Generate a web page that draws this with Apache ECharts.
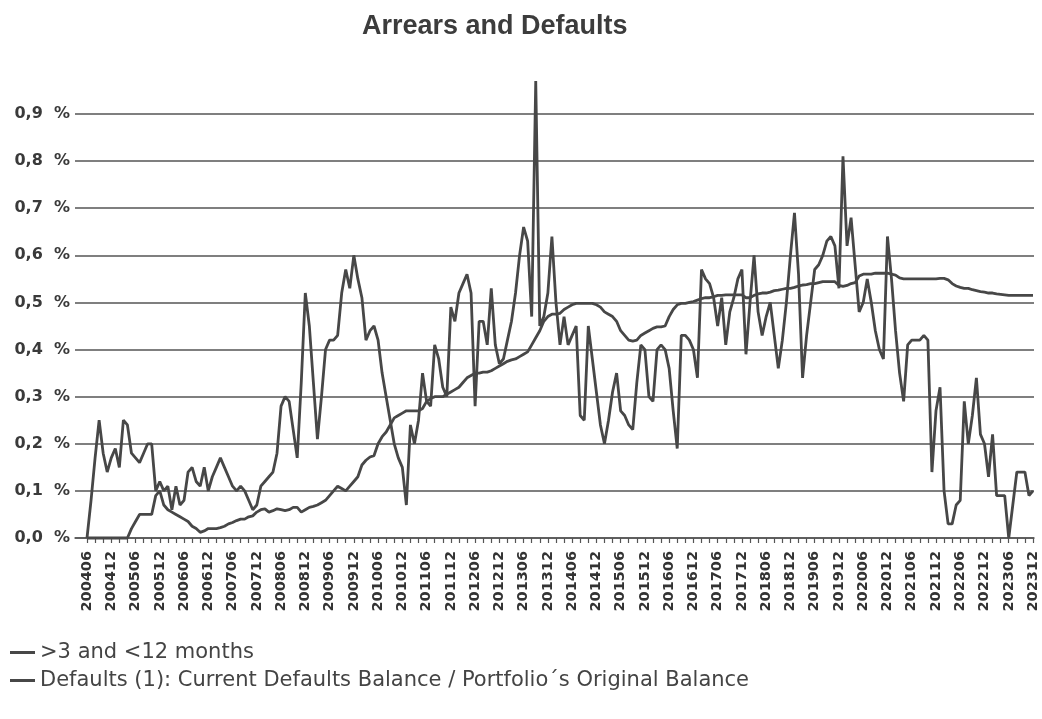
<!DOCTYPE html>
<html><head><meta charset="utf-8">
<script src="https://cdn.jsdelivr.net/npm/echarts@6/dist/echarts.min.js"></script>
<style>html,body{margin:0;padding:0;background:#fff}#c{width:1042px;height:719px}</style>
</head><body><div id="c"></div>
<script>
// Monthly categories 200406 .. 202312
const firstMonth = [2004, 6];
const lastMonth = [2023, 12];
const months = [];
for (let y = firstMonth[0], m = firstMonth[1]; y < lastMonth[0] || (y === lastMonth[0] && m <= lastMonth[1]); ) {
  months.push(String(y) + (m < 10 ? '0' + m : String(m)));
  m++; if (m > 12) { m = 1; y++; }
}

const seriesNames = ['>3 and <12 months', 'Defaults (1): Current Defaults Balance / Portfolio\u00B4s Original Balance'];

// >3 and <12 months arrears (%)
const arrears = [
  0.00,0.08,0.17,0.25,0.18,0.14,0.17,0.19,0.15,0.25,0.24,0.18,
  0.17,0.16,0.18,0.20,0.20,0.10,0.12,0.10,0.11,0.06,0.11,0.07,
  0.08,0.14,0.15,0.12,0.11,0.15,0.10,0.13,0.15,0.17,0.15,0.13,
  0.11,0.10,0.11,0.10,0.08,0.06,0.07,0.11,0.12,0.13,0.14,0.18,
  0.28,0.30,0.29,0.23,0.17,0.33,0.52,0.45,0.33,0.21,0.30,0.40,
  0.42,0.42,0.43,0.52,0.57,0.53,0.60,0.55,0.51,0.42,0.44,0.45,
  0.42,0.35,0.30,0.25,0.20,0.17,0.15,0.07,0.24,0.20,0.25,0.35,
  0.29,0.28,0.41,0.38,0.32,0.30,0.49,0.46,0.52,0.54,0.56,0.52,
  0.28,0.46,0.46,0.41,0.53,0.41,0.37,0.38,0.42,0.46,0.52,0.60,
  0.66,0.63,0.47,0.97,0.45,0.47,0.52,0.64,0.50,0.41,0.47,0.41,
  0.43,0.45,0.26,0.25,0.45,0.38,0.31,0.24,0.20,0.25,0.31,0.35,
  0.27,0.26,0.24,0.23,0.33,0.41,0.40,0.30,0.29,0.40,0.41,0.40,
  0.36,0.27,0.19,0.43,0.43,0.42,0.40,0.34,0.57,0.55,0.54,0.51,
  0.45,0.51,0.41,0.48,0.51,0.55,0.57,0.39,0.50,0.60,0.48,0.43,
  0.47,0.50,0.43,0.36,0.42,0.50,0.60,0.69,0.56,0.34,0.43,0.50,
  0.57,0.58,0.60,0.63,0.64,0.62,0.53,0.81,0.62,0.68,0.58,0.48,
  0.50,0.55,0.50,0.44,0.40,0.38,0.64,0.55,0.44,0.35,0.29,0.41,
  0.42,0.42,0.42,0.43,0.42,0.14,0.27,0.32,0.10,0.03,0.03,0.07,
  0.08,0.29,0.20,0.26,0.34,0.22,0.20,0.13,0.22,0.09,0.09,0.09,
  0.00,0.07,0.14,0.14,0.14,0.09,0.10
];

// Defaults: current defaults balance / original balance (%)
const defaults = [
  0,0,0,0,0,0,0,0,0,0,0,0.02,
  0.035,0.05,0.05,0.05,0.05,0.09,0.10,0.07,0.06,0.055,0.05,0.045,
  0.04,0.035,0.025,0.02,0.012,0.015,0.02,0.02,0.02,0.022,0.025,0.03,
  0.033,0.037,0.04,0.04,0.045,0.047,0.055,0.06,0.062,0.055,0.058,0.062,
  0.06,0.058,0.06,0.065,0.065,0.055,0.06,0.065,0.067,0.07,0.075,0.08,
  0.09,0.10,0.11,0.105,0.10,0.11,0.12,0.13,0.155,0.165,0.172,0.175,
  0.20,0.215,0.225,0.24,0.255,0.26,0.265,0.27,0.27,0.27,0.27,0.275,
  0.29,0.296,0.30,0.30,0.30,0.305,0.31,0.315,0.32,0.33,0.34,0.345,
  0.35,0.35,0.352,0.352,0.355,0.36,0.365,0.37,0.375,0.378,0.38,0.385,
  0.39,0.395,0.41,0.425,0.44,0.46,0.47,0.475,0.475,0.477,0.485,0.49,
  0.495,0.498,0.498,0.498,0.498,0.498,0.495,0.49,0.48,0.475,0.47,0.46,
  0.44,0.43,0.42,0.418,0.42,0.43,0.435,0.44,0.445,0.448,0.448,0.45,
  0.47,0.485,0.495,0.498,0.498,0.5,0.502,0.505,0.508,0.51,0.51,0.512,
  0.515,0.515,0.516,0.516,0.516,0.516,0.516,0.51,0.51,0.515,0.518,0.52,
  0.52,0.522,0.525,0.526,0.528,0.53,0.53,0.532,0.535,0.537,0.538,0.54,
  0.54,0.542,0.544,0.544,0.544,0.544,0.536,0.534,0.536,0.54,0.542,0.556,
  0.56,0.56,0.56,0.562,0.562,0.562,0.562,0.56,0.558,0.552,0.55,0.55,
  0.55,0.55,0.55,0.55,0.55,0.55,0.55,0.551,0.551,0.548,0.54,0.535,
  0.532,0.53,0.53,0.527,0.525,0.523,0.522,0.52,0.52,0.518,0.517,0.516,
  0.515,0.515,0.515,0.515,0.515,0.515,0.515
];

const yMin = 0, yMax = 0.9, yStep = 0.1;
const fmtY = v => v.toFixed(1).replace('.', ',') + '  %';

const ink = '#474747';
const chart = echarts.init(document.getElementById('c'), null, {renderer: 'canvas'});
chart.setOption({
  animation: false,
  backgroundColor: '#ffffff',
  title: {
    text: 'Arrears and Defaults', left: 357, top: 8,
    textStyle: {fontFamily: 'Liberation Sans', fontWeight: 'bold', fontSize: 27, color: '#3c3c3c'}
  },
  legend: {
    orient: 'vertical', left: 5, top: 637, itemWidth: 25, itemHeight: 3, itemGap: 7,
    icon: 'rect',
    textStyle: {fontFamily: 'DejaVu Sans', fontSize: 21, color: '#444'},
    data: seriesNames
  },
  grid: [
    {left: 75, right: 8, top: 114, bottom: 181},
    {left: 87, right: 9, top: 114, bottom: 181}
  ],
  xAxis: [
    {gridIndex: 0, type: 'value', min: 0, max: 1,
     axisLine: {show: true, onZero: false, lineStyle: {color: '#555', width: 1.5}},
     axisTick: {show: false}, axisLabel: {show: false}, splitLine: {show: false}},
    {gridIndex: 1, type: 'category', data: months, boundaryGap: false,
     axisLine: {show: false},
     axisTick: {show: true, interval: 1, length: 5, lineStyle: {color: '#555', width: 1.2}},
     axisLabel: {interval: 5, rotate: 90, margin: 13, fontFamily: 'DejaVu Sans', fontWeight: 'bold', fontSize: 14.5, color: '#333'},
     splitLine: {show: false}}
  ],
  yAxis: [
    {gridIndex: 0, type: 'value', min: yMin, max: yMax, interval: yStep,
     axisLine: {show: false}, axisTick: {show: false},
     axisLabel: {formatter: fmtY, margin: 5, fontFamily: 'DejaVu Sans', fontWeight: 'bold', fontSize: 16, color: '#3a3a3a'},
     splitLine: {show: true, lineStyle: {color: '#555', width: 1.5}}},
    {gridIndex: 1, type: 'value', min: yMin, max: yMax, interval: yStep, show: false, splitLine: {show: false}}
  ],
  series: [
    {name: seriesNames[0], type: 'line', xAxisIndex: 1, yAxisIndex: 1, data: arrears, clip: false,
     showSymbol: false, symbol: 'none', lineStyle: {color: ink, width: 2.8}, itemStyle: {color: ink}},
    {name: seriesNames[1], type: 'line', xAxisIndex: 1, yAxisIndex: 1, data: defaults, clip: false,
     showSymbol: false, symbol: 'none', lineStyle: {color: ink, width: 2.8}, itemStyle: {color: ink}}
  ]
});
</script>
</body></html>
